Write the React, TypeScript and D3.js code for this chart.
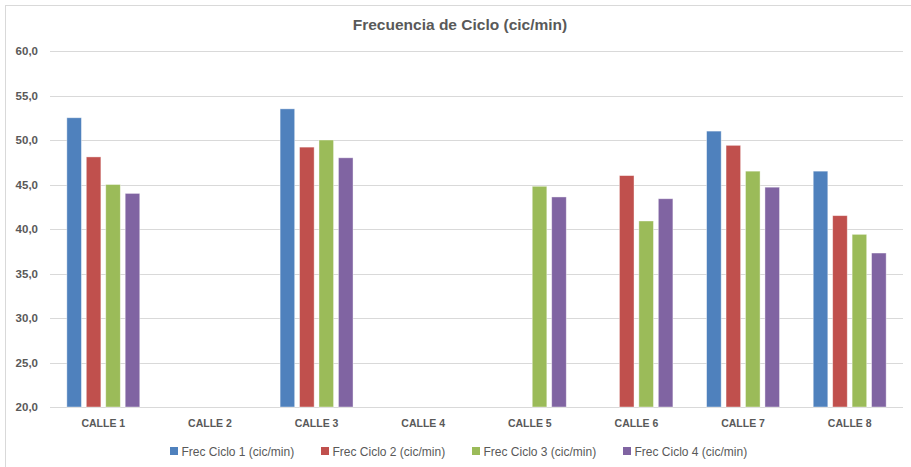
import React from "react";
import * as d3 from "d3";

const categories = ["CALLE 1", "CALLE 2", "CALLE 3", "CALLE 4", "CALLE 5", "CALLE 6", "CALLE 7", "CALLE 8"];
const seriesNames = [
  "Frec Ciclo 1 (cic/min)",
  "Frec Ciclo 2 (cic/min)",
  "Frec Ciclo 3 (cic/min)",
  "Frec Ciclo 4 (cic/min)",
];
const ciclo1: (number | null)[] = [52.5, null, 53.5, null, null, null, 51.0, 46.5];
const ciclo2: (number | null)[] = [48.1, null, 49.2, null, null, 46.0, 49.4, 41.5];
const ciclo3: (number | null)[] = [45.0, null, 50.0, null, 44.8, 40.9, 46.5, 39.4];
const ciclo4: (number | null)[] = [44.0, null, 48.0, null, 43.6, 43.4, 44.7, 37.3];
const seriesValues = [ciclo1, ciclo2, ciclo3, ciclo4];
const colors = ["#4f81bd", "#c0504d", "#9bbb59", "#8064a2"];
const yTicks = [20, 25, 30, 35, 40, 45, 50, 55, 60];
const title = "Frecuencia de Ciclo (cic/min)";

const W = 911;
const H = 467;
const left = 50;
const right = 903;
const top = 51;
const bottom = 407;
const font = "'Liberation Sans', Arial, sans-serif";
const textColor = "#595959";

export default function App() {
  const x0 = d3.scaleBand<string>().domain(categories).range([left, right]).paddingInner(0.316).paddingOuter(0.158);
  const x1 = d3.scaleBand<number>().domain(d3.range(seriesNames.length)).range([0, x0.bandwidth()]).paddingInner(0.25).paddingOuter(0);
  const y = d3.scaleLinear().domain([20, 60]).range([bottom, top]);
  const fmt = (v: number) => d3.format(".1f")(v).replace(".", ",");
  const legendX = d3.scaleLinear().domain([0, 1]).range([170, 321]);

  return (
    <svg width={W} height={H} style={{ position: "absolute", left: 0, top: 0, display: "block", background: "#fff" }}>
      <rect x={5.5} y={5.5} width={912} height={470} fill="#fff" stroke="#d9d9d9" strokeWidth={1} />
      <text x={460} y={30} textAnchor="middle" fontFamily={font} fontWeight="bold" fontSize={15.5} fill={textColor}>
        {title}
      </text>
      {yTicks.map((t) => (
        <g key={t}>
          <line x1={left} x2={right} y1={Math.round(y(t)) + 0.5} y2={Math.round(y(t)) + 0.5} stroke="#d9d9d9" strokeWidth={1} />
          <text x={38} y={y(t) + 4} textAnchor="end" fontFamily={font} fontWeight="bold" fontSize={11.5} fill={textColor}>
            {fmt(t)}
          </text>
        </g>
      ))}
      {categories.map((c, ci) => (
        <g key={c} transform={`translate(${x0(c)},0)`}>
          {seriesValues.map((vals, si) => {
            const v = vals[ci];
            if (v == null) return null;
            return (
              <rect
                key={si}
                x={x1(si)}
                y={y(v)}
                width={x1.bandwidth()}
                height={y(20) - y(v)}
                fill={colors[si]}
                stroke="#ffffff"
                strokeOpacity={0.5}
                strokeWidth={0.8}
              />
            );
          })}
        </g>
      ))}
      {categories.map((c) => (
        <text key={c} x={(x0(c) as number) + x0.bandwidth() / 2} y={427} textAnchor="middle" fontFamily={font} fontWeight="bold" fontSize={10.5} fill={textColor}>
          {c}
        </text>
      ))}
      {seriesNames.map((s, i) => (
        <g key={s} transform={`translate(${legendX(i)},447)`}>
          <rect x={0} y={0} width={8} height={8} fill={colors[i]} />
          <text x={11.5} y={8.5} fontFamily={font} fontSize={12} fill={textColor}>
            {s}
          </text>
        </g>
      ))}
    </svg>
  );
}
